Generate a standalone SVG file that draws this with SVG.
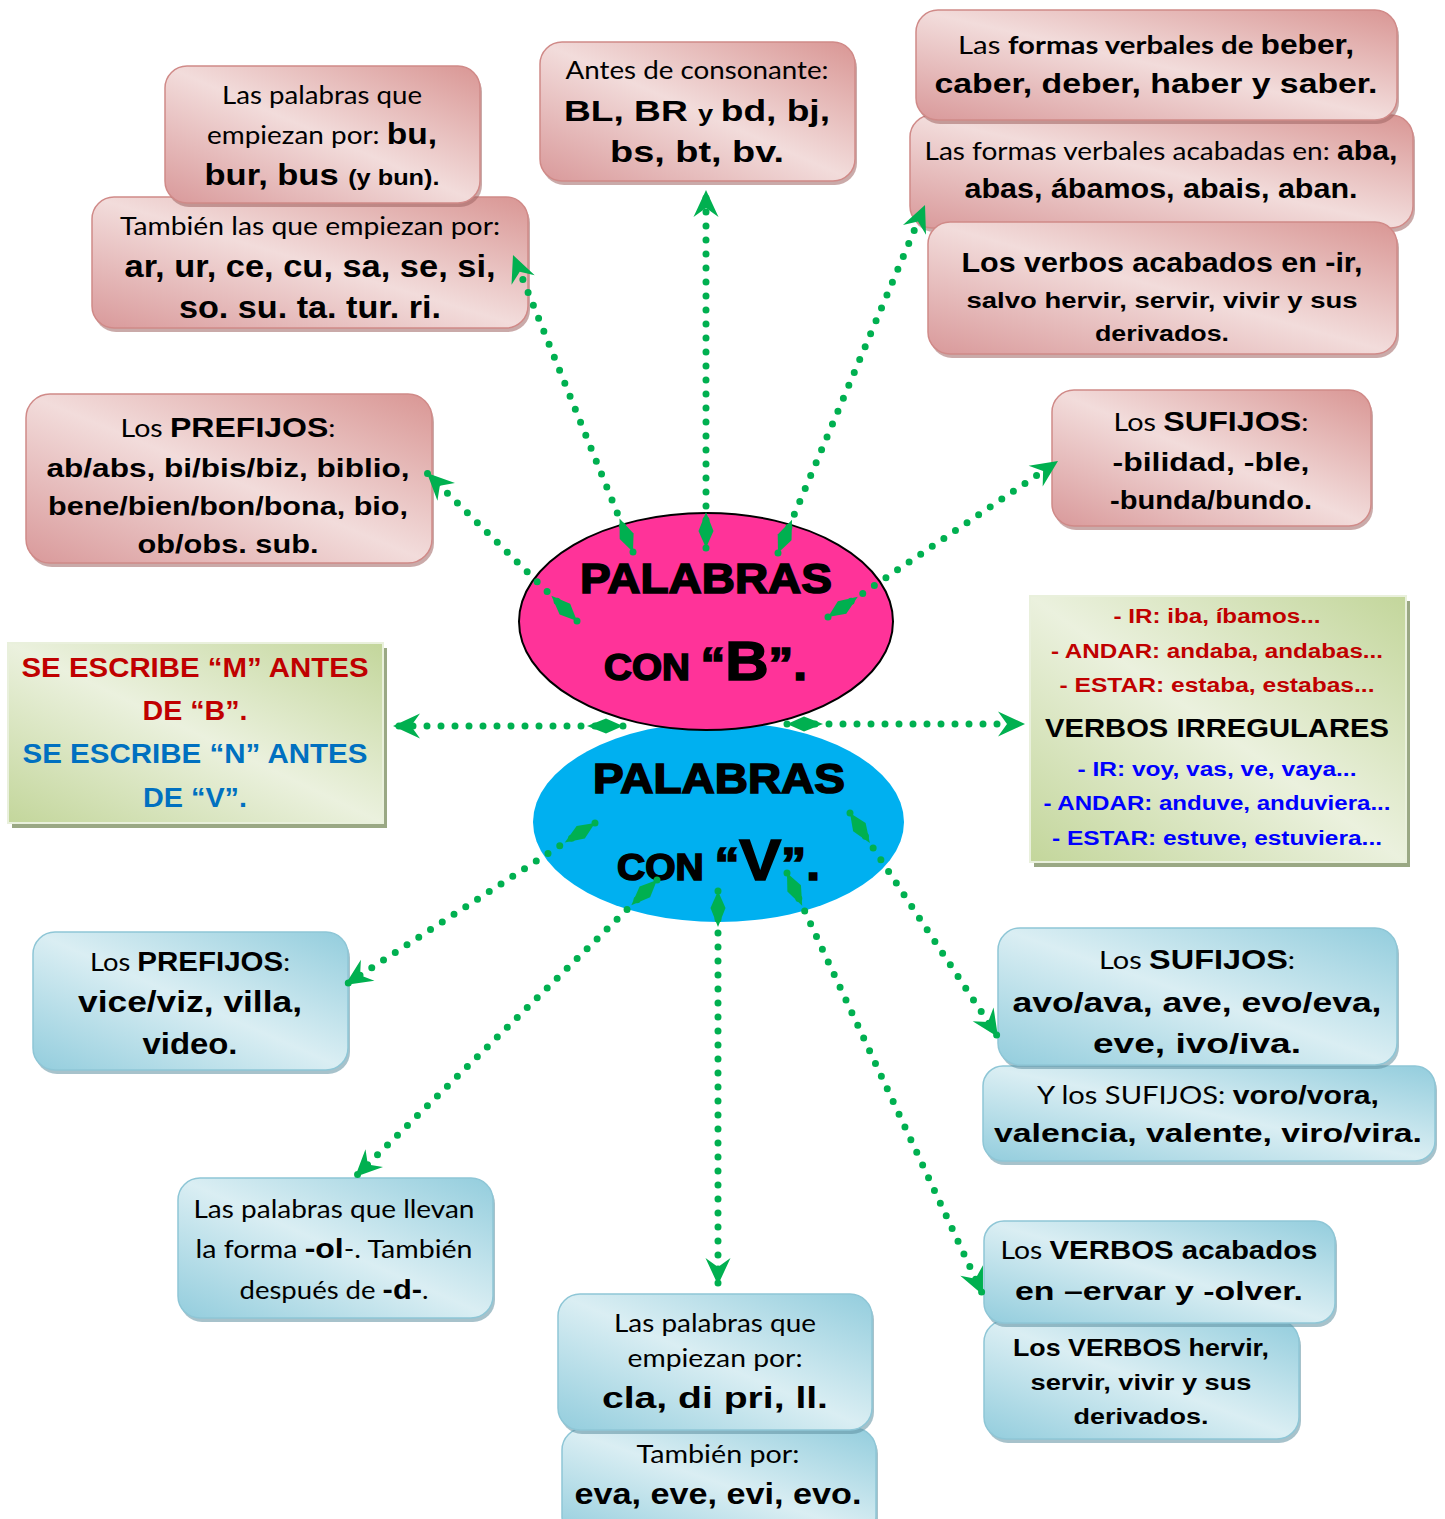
<svg xmlns="http://www.w3.org/2000/svg" width="1445" height="1519" viewBox="0 0 1445 1519" xml:space="preserve">
<defs>
<style>
text{text-anchor:middle;}
.c{font-family:Lato,"Liberation Sans",sans-serif;font-weight:400;fill:#000;}
.cb{font-family:Lato,"Liberation Sans",sans-serif;font-weight:700;fill:#000;}
.a{font-family:"Liberation Sans",Arial,sans-serif;font-weight:700;fill:#000;}
.big{font-family:"Liberation Sans",Arial,sans-serif;font-weight:700;fill:#000;stroke:#000;stroke-width:1.6;}
.pk{fill:url(#gp);stroke:#d08a88;stroke-width:1.5;}
.pks{fill:#9e6462;opacity:.55;}
.bl{fill:url(#gb);stroke:#8ec6d6;stroke-width:1.5;}
.bls{fill:#5f8fa0;opacity:.55;}
.gr{fill:url(#gg);stroke:#e9f0dc;stroke-width:2;}
.grs{fill:#9aa884;}
.red{fill:#c00000;}
.blu{fill:#0070c0;}
.vb{fill:#0000ff;}
.con{fill:none;stroke:#00b050;stroke-width:7;stroke-linecap:round;stroke-dasharray:0 14;marker-start:url(#dia);marker-end:url(#arr);}
</style>
<linearGradient id="gp" x1="0" y1="1" x2="1" y2="0">
<stop offset="0" stop-color="#d9999a"/>
<stop offset="0.5" stop-color="#f2dcdb"/>
<stop offset="1" stop-color="#d99694"/>
</linearGradient>
<linearGradient id="gb" x1="0" y1="1" x2="1" y2="0">
<stop offset="0" stop-color="#93cddd"/>
<stop offset="0.5" stop-color="#daeef3"/>
<stop offset="1" stop-color="#93cddd"/>
</linearGradient>
<linearGradient id="gg" x1="0" y1="1" x2="1" y2="0">
<stop offset="0" stop-color="#c3d69b"/>
<stop offset="0.5" stop-color="#ebf1de"/>
<stop offset="1" stop-color="#c3d69b"/>
</linearGradient>
<marker id="dia" markerUnits="userSpaceOnUse" viewBox="-2 -9 40 18" refX="0" refY="0" markerWidth="40" markerHeight="18" orient="auto" overflow="visible">
<path d="M0,0 L17,-7.5 L36,0 L17,7.5 Z" fill="#00b050"/>
</marker>
<marker id="arr" markerUnits="userSpaceOnUse" viewBox="-30 -15 32 30" refX="0" refY="0" markerWidth="32" markerHeight="30" orient="auto" overflow="visible">
<path d="M0,0 L-27,-12.5 L-18,0 L-27,12.5 Z" fill="#00b050"/>
</marker>
</defs>
<rect x="0" y="0" width="1445" height="1519" fill="#fff"/>

<g id="b-tambien"><rect class="pks" x="94" y="201" width="436" height="131" rx="22"/><rect class="pk" x="92" y="197" width="436" height="131" rx="22"/>
<text class="c" x="310" y="235" font-size="25" textLength="380" lengthAdjust="spacingAndGlyphs">También las que empiezan por:</text>
<text class="a" x="310" y="277" font-size="31" textLength="371" lengthAdjust="spacingAndGlyphs">ar, ur, ce, cu, sa, se, si,</text>
<text class="a" x="310" y="318" font-size="31" textLength="262" lengthAdjust="spacingAndGlyphs">so. su. ta. tur. ri.</text></g>

<g id="b-bu"><rect class="pks" x="167" y="70" width="315" height="137" rx="22"/><rect class="pk" x="165" y="66" width="315" height="137" rx="22"/>
<text class="c" x="322" y="104" font-size="25" textLength="200" lengthAdjust="spacingAndGlyphs">Las palabras que</text>
<text x="322" y="144" textLength="230" lengthAdjust="spacingAndGlyphs"><tspan class="c" font-size="25">empiezan por: </tspan><tspan class="a" font-size="30">bu,</tspan></text>
<text x="322" y="185" textLength="235" lengthAdjust="spacingAndGlyphs"><tspan class="a" font-size="30">bur, bus </tspan><tspan class="a" font-size="22">(y bun).</tspan></text></g>

<g id="b-antes"><rect class="pks" x="542" y="46" width="315" height="139" rx="22"/><rect class="pk" x="540" y="42" width="315" height="139" rx="22"/>
<text class="c" x="697" y="79" font-size="25" textLength="263" lengthAdjust="spacingAndGlyphs">Antes de consonante:</text>
<text x="697" y="121" textLength="266" lengthAdjust="spacingAndGlyphs"><tspan class="a" font-size="30">BL,  BR </tspan><tspan class="a" font-size="22">y </tspan><tspan class="a" font-size="30"> bd,  bj,</tspan></text>
<text class="a" x="697" y="162" font-size="30" textLength="174" lengthAdjust="spacingAndGlyphs">bs,  bt,  bv.</text></g>

<g id="b-acabadas"><rect class="pks" x="912" y="119" width="503" height="113" rx="22"/><rect class="pk" x="910" y="115" width="503" height="113" rx="22"/>
<text x="1161" y="160" textLength="473" lengthAdjust="spacingAndGlyphs"><tspan class="c" font-size="25">Las formas verbales acabadas en: </tspan><tspan class="a" font-size="27">aba,</tspan></text>
<text class="a" x="1161" y="198" font-size="27" textLength="393" lengthAdjust="spacingAndGlyphs">abas, ábamos, abais, aban.</text></g>

<g id="b-beber"><rect class="pks" x="918" y="14" width="481" height="110" rx="22"/><rect class="pk" x="916" y="10" width="481" height="110" rx="22"/>
<text x="1156" y="54" textLength="396" lengthAdjust="spacingAndGlyphs"><tspan class="c" font-size="25">Las </tspan><tspan class="cb" font-size="25">formas verbales de </tspan><tspan class="a" font-size="27">beber,</tspan></text>
<text class="a" x="1156" y="93" font-size="27" textLength="443" lengthAdjust="spacingAndGlyphs">caber,  deber,  haber  y  saber.</text></g>

<g id="b-ir"><rect class="pks" x="930" y="226" width="469" height="132" rx="22"/><rect class="pk" x="928" y="222" width="469" height="132" rx="22"/>
<text class="a" x="1162" y="272" font-size="27" textLength="401" lengthAdjust="spacingAndGlyphs">Los verbos acabados en -ir,</text>
<text class="a" x="1162" y="308" font-size="22" textLength="391" lengthAdjust="spacingAndGlyphs">salvo hervir, servir, vivir y sus</text>
<text class="a" x="1162" y="341" font-size="22" textLength="134" lengthAdjust="spacingAndGlyphs">derivados.</text></g>

<g id="b-prefijos"><rect class="pks" x="28" y="398" width="406" height="169" rx="24"/><rect class="pk" x="26" y="394" width="406" height="169" rx="24"/>
<text x="228" y="437" textLength="215" lengthAdjust="spacingAndGlyphs"><tspan class="c" font-size="25">Los </tspan><tspan class="a" font-size="28">PREFIJOS</tspan><tspan class="c" font-size="25">:</tspan></text>
<text class="a" x="228" y="477" font-size="26" textLength="363" lengthAdjust="spacingAndGlyphs">ab/abs,  bi/bis/biz,  biblio,</text>
<text class="a" x="228" y="515" font-size="26" textLength="360" lengthAdjust="spacingAndGlyphs">bene/bien/bon/bona,  bio,</text>
<text class="a" x="228" y="553" font-size="26" textLength="181" lengthAdjust="spacingAndGlyphs">ob/obs.  sub.</text></g>

<g id="b-sufijos"><rect class="pks" x="1054" y="394" width="319" height="136" rx="22"/><rect class="pk" x="1052" y="390" width="319" height="136" rx="22"/>
<text x="1211" y="431" textLength="195" lengthAdjust="spacingAndGlyphs"><tspan class="c" font-size="25">Los </tspan><tspan class="a" font-size="28">SUFIJOS</tspan><tspan class="c" font-size="25">:</tspan></text>
<text class="a" x="1211" y="471" font-size="26" textLength="197" lengthAdjust="spacingAndGlyphs">-bilidad,  -ble,</text>
<text class="a" x="1211" y="509" font-size="26" textLength="202" lengthAdjust="spacingAndGlyphs">-bunda/bundo.</text></g>

<g id="g-mn"><rect class="grs" x="12" y="648" width="375" height="180"/><rect class="gr" x="8" y="643" width="375" height="180"/>
<text class="a red" x="195" y="677" font-size="27" textLength="347" lengthAdjust="spacingAndGlyphs">SE ESCRIBE “M” ANTES</text>
<text class="a red" x="195" y="720" font-size="27" textLength="105" lengthAdjust="spacingAndGlyphs">DE “B”.</text>
<text class="a blu" x="195" y="763" font-size="27" textLength="345" lengthAdjust="spacingAndGlyphs">SE ESCRIBE “N” ANTES</text>
<text class="a blu" x="195" y="807" font-size="27" textLength="104" lengthAdjust="spacingAndGlyphs">DE “V”.</text></g>

<g id="g-irregulares"><rect class="grs" x="1034" y="601" width="376" height="266"/><rect class="gr" x="1030" y="596" width="376" height="266"/>
<text class="a red" x="1217" y="623" font-size="20" textLength="207" lengthAdjust="spacingAndGlyphs">- IR: iba, íbamos...</text>
<text class="a red" x="1217" y="658" font-size="20" textLength="332" lengthAdjust="spacingAndGlyphs">- ANDAR: andaba, andabas...</text>
<text class="a red" x="1217" y="692" font-size="20" textLength="315" lengthAdjust="spacingAndGlyphs">- ESTAR: estaba, estabas...</text>
<text class="a" x="1217" y="737" font-size="26" textLength="344" lengthAdjust="spacingAndGlyphs">VERBOS IRREGULARES</text>
<text class="a vb" x="1217" y="776" font-size="20" textLength="279" lengthAdjust="spacingAndGlyphs">- IR: voy, vas, ve, vaya...</text>
<text class="a vb" x="1217" y="810" font-size="20" textLength="347" lengthAdjust="spacingAndGlyphs">- ANDAR: anduve, anduviera...</text>
<text class="a vb" x="1217" y="845" font-size="20" textLength="330" lengthAdjust="spacingAndGlyphs">- ESTAR: estuve, estuviera...</text></g>

<g id="v-prefijos"><rect class="bls" x="35" y="936" width="315" height="138" rx="22"/><rect class="bl" x="33" y="932" width="315" height="138" rx="22"/>
<text x="190" y="971" textLength="200" lengthAdjust="spacingAndGlyphs"><tspan class="c" font-size="25">Los </tspan><tspan class="a" font-size="27">PREFIJOS</tspan><tspan class="c" font-size="25">:</tspan></text>
<text class="a" x="190" y="1012" font-size="29" textLength="224" lengthAdjust="spacingAndGlyphs">vice/viz,  villa,</text>
<text class="a" x="190" y="1054" font-size="29" textLength="95" lengthAdjust="spacingAndGlyphs">video.</text></g>

<g id="v-ol"><rect class="bls" x="180" y="1182" width="315" height="140" rx="22"/><rect class="bl" x="178" y="1178" width="315" height="140" rx="22"/>
<text class="c" x="334" y="1218" font-size="25" textLength="281" lengthAdjust="spacingAndGlyphs">Las palabras que llevan</text>
<text x="334" y="1258" textLength="277" lengthAdjust="spacingAndGlyphs"><tspan class="c" font-size="25">la forma </tspan><tspan class="a" font-size="28">-ol</tspan><tspan class="c" font-size="25">-. También</tspan></text>
<text x="334" y="1299" textLength="189" lengthAdjust="spacingAndGlyphs"><tspan class="c" font-size="25">después de </tspan><tspan class="a" font-size="28">-d-</tspan><tspan class="c" font-size="25">.</tspan></text></g>

<g id="v-tambien"><rect class="bls" x="564" y="1432" width="314" height="110" rx="22"/><rect class="bl" x="562" y="1428" width="314" height="110" rx="22"/>
<text class="c" x="718" y="1463" font-size="25" textLength="163" lengthAdjust="spacingAndGlyphs">También por:</text>
<text class="a" x="718" y="1504" font-size="29" textLength="287" lengthAdjust="spacingAndGlyphs">eva, eve, evi, evo.</text></g>

<g id="v-cla"><rect class="bls" x="560" y="1298" width="314" height="136" rx="22"/><rect class="bl" x="558" y="1294" width="314" height="136" rx="22"/>
<text class="c" x="715" y="1332" font-size="25" textLength="202" lengthAdjust="spacingAndGlyphs">Las palabras que</text>
<text class="c" x="715" y="1367" font-size="25" textLength="175" lengthAdjust="spacingAndGlyphs">empiezan por:</text>
<text class="a" x="715" y="1408" font-size="29" textLength="226" lengthAdjust="spacingAndGlyphs">cla,  di  pri,  ll.</text></g>

<g id="v-sufijos2"><rect class="bls" x="985" y="1070" width="452" height="95" rx="20"/><rect class="bl" x="983" y="1066" width="452" height="95" rx="20"/>
<text x="1208" y="1104" textLength="342" lengthAdjust="spacingAndGlyphs"><tspan class="c" font-size="25">Y los SUFIJOS:    </tspan><tspan class="a" font-size="26">voro/vora,</tspan></text>
<text class="a" x="1208" y="1142" font-size="26" textLength="428" lengthAdjust="spacingAndGlyphs">valencia,   valente,   viro/vira.</text></g>

<g id="v-sufijos"><rect class="bls" x="1000" y="932" width="399" height="137" rx="22"/><rect class="bl" x="998" y="928" width="399" height="137" rx="22"/>
<text x="1197" y="969" textLength="196" lengthAdjust="spacingAndGlyphs"><tspan class="c" font-size="25">Los </tspan><tspan class="a" font-size="28">SUFIJOS</tspan><tspan class="c" font-size="25">:</tspan></text>
<text class="a" x="1197" y="1012" font-size="27" textLength="369" lengthAdjust="spacingAndGlyphs">avo/ava,  ave,  evo/eva,</text>
<text class="a" x="1197" y="1053" font-size="27" textLength="208" lengthAdjust="spacingAndGlyphs">eve,   ivo/iva.</text></g>

<g id="v-hervir"><rect class="bls" x="986" y="1324" width="315" height="119" rx="22"/><rect class="bl" x="984" y="1320" width="315" height="119" rx="22"/>
<text class="a" x="1141" y="1356" font-size="24" textLength="256" lengthAdjust="spacingAndGlyphs">Los VERBOS hervir,</text>
<text class="a" x="1141" y="1390" font-size="22" textLength="221" lengthAdjust="spacingAndGlyphs">servir, vivir y sus</text>
<text class="a" x="1141" y="1424" font-size="22" textLength="135" lengthAdjust="spacingAndGlyphs">derivados.</text></g>

<g id="v-ervar"><rect class="bls" x="986" y="1225" width="351" height="102" rx="20"/><rect class="bl" x="984" y="1221" width="351" height="102" rx="20"/>
<text x="1159" y="1259" textLength="317" lengthAdjust="spacingAndGlyphs"><tspan class="c" font-size="25">Los </tspan><tspan class="a" font-size="26">VERBOS acabados</tspan></text>
<text class="a" x="1159" y="1300" font-size="26" textLength="288" lengthAdjust="spacingAndGlyphs">en –ervar  y  -olver.</text></g>

<g id="e-v"><ellipse cx="718.5" cy="822" rx="185.5" ry="100" fill="#00b0f0"/>
<text class="big" x="719" y="793" font-size="42" textLength="252" lengthAdjust="spacingAndGlyphs">PALABRAS</text>
<text class="big" x="718.5" y="880" textLength="203" lengthAdjust="spacingAndGlyphs"><tspan font-size="36">CON </tspan><tspan font-size="46">“</tspan><tspan font-size="58">V</tspan><tspan font-size="46">”.</tspan></text></g>

<g id="e-b"><ellipse cx="706" cy="621.5" rx="187" ry="108.5" fill="#ff3399" stroke="#000" stroke-width="2"/>
<text class="big" x="706" y="593" font-size="42" textLength="252" lengthAdjust="spacingAndGlyphs">PALABRAS</text>
<text class="big" x="705.5" y="680" textLength="203" lengthAdjust="spacingAndGlyphs"><tspan font-size="36">CON </tspan><tspan font-size="46">“</tspan><tspan font-size="56">B</tspan><tspan font-size="46">”.</tspan></text></g>

<g id="connectors">
<line class="con" x1="633" y1="552" x2="513" y2="255"/>
<line class="con" x1="706" y1="548" x2="706" y2="190"/>
<line class="con" x1="778" y1="553" x2="925" y2="205"/>
<line class="con" x1="577" y1="621" x2="427" y2="473"/>
<line class="con" x1="828" y1="617" x2="1058" y2="461"/>
<line class="con" x1="623" y1="726" x2="393" y2="726"/>
<line class="con" x1="787" y1="724" x2="1025" y2="724"/>
<line class="con" x1="595" y1="823" x2="345" y2="985"/>
<line class="con" x1="657" y1="880" x2="355" y2="1177"/>
<line class="con" x1="718" y1="891" x2="718" y2="1285"/>
<line class="con" x1="787" y1="873" x2="983" y2="1295"/>
<line class="con" x1="850" y1="813" x2="998" y2="1037"/>
</g>
</svg>
